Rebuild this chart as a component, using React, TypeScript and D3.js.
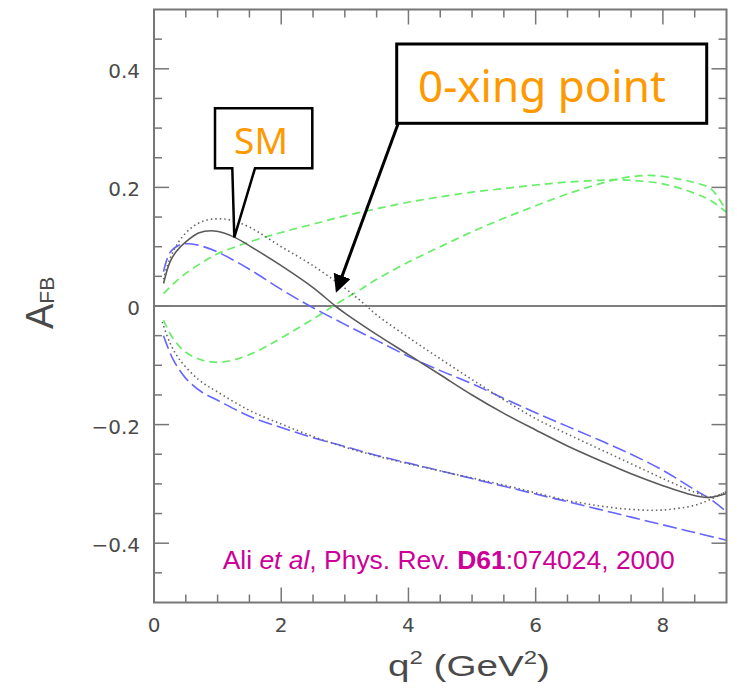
import React from 'react';
import * as d3 from 'd3';

// ---- data ----
const xTickValues = [0, 2, 4, 6, 8];
const xTickLabels = ['0', '2', '4', '6', '8'];
const yTickValues = [-0.4, -0.2, 0, 0.2, 0.4];
const yTickLabels = ['−0.4', '−0.2', '0', '0.2', '0.4'];

// SM (solid)
const smQ = [0.15, 0.25, 0.35, 0.5, 0.7, 0.9, 1.1, 1.3, 1.6, 2.0, 2.5, 2.85, 3.0, 3.4, 4.0, 4.5, 5.0, 5.5, 6.0, 6.5, 7.0, 7.5, 8.0, 8.4, 8.7, 9.0];
const smA = [0.038, 0.074, 0.092, 0.108, 0.123, 0.127, 0.123, 0.114, 0.095, 0.068, 0.031, 0.0, -0.012, -0.041, -0.082, -0.116, -0.15, -0.181, -0.209, -0.236, -0.26, -0.283, -0.303, -0.317, -0.323, -0.316];

// dotted, upper branch
const dotUpQ = [0.15, 0.25, 0.4, 0.6, 0.8, 1.0, 1.2, 1.5, 2.0, 2.5, 3.0, 3.3, 3.5, 4.0, 4.5, 5.0, 5.5, 6.0, 6.5, 7.0, 7.5, 8.0, 8.5, 8.75, 9.0];
const dotUpA = [0.045, 0.08, 0.11, 0.133, 0.144, 0.147, 0.145, 0.133, 0.1, 0.068, 0.03, 0.004, -0.015, -0.053, -0.089, -0.124, -0.158, -0.19, -0.216, -0.241, -0.266, -0.291, -0.314, -0.322, -0.313];

// dotted, lower branch
const dotLoQ = [0.13, 0.25, 0.4, 0.7, 1.0, 1.5, 2.0, 2.5, 3.0, 3.5, 4.0, 4.5, 5.0, 5.5, 6.0, 6.5, 7.0, 7.5, 8.0, 8.5, 8.75, 9.0];
const dotLoA = [-0.027, -0.062, -0.09, -0.124, -0.145, -0.176, -0.199, -0.22, -0.238, -0.253, -0.266, -0.278, -0.29, -0.302, -0.315, -0.328, -0.337, -0.343, -0.344, -0.336, -0.326, -0.313];

// blue long-dash, upper branch
const blueUpQ = [0.15, 0.25, 0.4, 0.55, 0.75, 1.0, 1.5, 2.0, 2.45, 3.0, 3.5, 4.0, 4.5, 5.0, 5.5, 6.0, 6.5, 7.0, 7.5, 8.0, 8.5, 8.75, 9.0];
const blueUpA = [0.058, 0.09, 0.103, 0.105, 0.101, 0.091, 0.062, 0.028, 0.0, -0.031, -0.058, -0.085, -0.109, -0.131, -0.156, -0.18, -0.203, -0.226, -0.25, -0.277, -0.31, -0.326, -0.347];

// blue long-dash, lower branch
const blueLoQ = [0.15, 0.3, 0.5, 0.75, 1.0, 1.5, 2.0, 2.5, 3.0, 3.5, 4.0, 4.5, 5.0, 5.5, 6.0, 6.5, 7.0, 7.5, 8.0, 8.5, 9.0];
const blueLoA = [-0.05, -0.09, -0.122, -0.145, -0.159, -0.186, -0.205, -0.222, -0.237, -0.252, -0.265, -0.278, -0.291, -0.304, -0.317, -0.33, -0.343, -0.356, -0.369, -0.382, -0.395];

// green dashed, upper branch
const greenUpQ = [0.15, 0.3, 0.5, 0.75, 1.0, 1.5, 2.0, 2.5, 3.0, 3.5, 4.0, 4.5, 5.0, 5.5, 6.0, 6.5, 7.0, 7.25, 7.5, 8.0, 8.5, 8.75, 9.0];
const greenUpA = [0.021, 0.037, 0.055, 0.073, 0.088, 0.108, 0.124, 0.138, 0.152, 0.164, 0.175, 0.184, 0.192, 0.198, 0.204, 0.209, 0.212, 0.213, 0.212, 0.206, 0.19, 0.178, 0.158];

// green dashed, lower branch
const greenLoQ = [0.15, 0.3, 0.5, 0.75, 1.0, 1.25, 1.5, 1.75, 2.0, 2.5, 2.82, 3.0, 3.25, 3.5, 4.0, 4.5, 5.0, 5.5, 6.0, 6.5, 7.0, 7.25, 7.5, 7.85, 8.25, 8.5, 8.75, 9.0];
const greenLoA = [-0.024, -0.055, -0.078, -0.091, -0.095, -0.091, -0.082, -0.069, -0.054, -0.022, 0.0, 0.012, 0.028, 0.045, 0.074, 0.1, 0.125, 0.148, 0.169, 0.189, 0.206, 0.213, 0.218, 0.22, 0.214, 0.208, 0.198, 0.16];

const W = 737;
const H = 688;

export default function App() {
  const x = d3.scaleLinear().domain([0, 9]).range([154, 726.5]);
  const y = d3.scaleLinear().domain([-0.5, 0.5]).range([602.5, 9.5]);

  const line = d3
    .line<[number, number]>()
    .x((d) => x(d[0]))
    .y((d) => y(d[1]))
    .curve(d3.curveCatmullRom.alpha(0.5));

  const zip = (q: number[], a: number[]) => q.map((v, i) => [v, a[i]] as [number, number]);

  const series = [
    { q: greenUpQ, a: greenUpA, stroke: '#66ee66', dash: '8,5', width: 1.7 },
    { q: greenLoQ, a: greenLoA, stroke: '#66ee66', dash: '8,5', width: 1.7 },
    { q: blueUpQ, a: blueUpA, stroke: '#6464ff', dash: '14,5', width: 1.6 },
    { q: blueLoQ, a: blueLoA, stroke: '#6464ff', dash: '14,5', width: 1.6 },
    { q: dotUpQ, a: dotUpA, stroke: '#666', dash: '1.5,3', width: 1.6 },
    { q: dotLoQ, a: dotLoA, stroke: '#666', dash: '1.5,3', width: 1.6 },
    { q: smQ, a: smA, stroke: '#5a5a5a', dash: undefined as string | undefined, width: 1.6 },
  ];

  const [x0, x1] = x.range();
  const [y0, y1] = y.range(); // y0 bottom, y1 top

  const xMinor = d3.range(0.5, 9, 0.5).filter((v) => Math.abs(v % 2) > 1e-6);
  const xMajor = xTickValues.filter((v) => v > 0);
  const yMinor = d3.range(-0.45, 0.5, 0.05).filter((v) => Math.abs(Math.round(v * 100) % 20) !== 0);
  const yMajor = yTickValues;

  const tickColor = '#777';
  const labelColor = '#4a4a4a';
  const orange = '#ff9900';

  return (
    <svg width={W} height={H} style={{ position: 'absolute', left: 0, top: 0, background: '#fff' }}>
      <rect x={0} y={0} width={W} height={H} fill="#fff" />

      {/* zero line */}
      <line x1={x0} x2={x1} y1={y(0)} y2={y(0)} stroke="#555" strokeWidth={1.3} />

      {/* curves */}
      {series.map((s, i) => (
        <path
          key={i}
          d={line(zip(s.q, s.a)) || ''}
          fill="none"
          stroke={s.stroke}
          strokeWidth={s.width}
          strokeDasharray={s.dash}
        />
      ))}

      {/* frame */}
      <rect x={x0} y={y1} width={x1 - x0} height={y0 - y1} fill="none" stroke={tickColor} strokeWidth={2} />

      {/* x ticks bottom & top */}
      {xMinor.map((v) => (
        <g key={'xm' + v}>
          <line x1={x(v)} x2={x(v)} y1={y0} y2={y0 - 8} stroke={tickColor} strokeWidth={1.5} />
          <line x1={x(v)} x2={x(v)} y1={y1} y2={y1 + 8} stroke={tickColor} strokeWidth={1.5} />
        </g>
      ))}
      {xMajor.map((v) => (
        <g key={'xM' + v}>
          <line x1={x(v)} x2={x(v)} y1={y0} y2={y0 - 15} stroke={tickColor} strokeWidth={1.5} />
          <line x1={x(v)} x2={x(v)} y1={y1} y2={y1 + 15} stroke={tickColor} strokeWidth={1.5} />
        </g>
      ))}
      {/* y ticks left & right */}
      {yMinor.map((v) => (
        <g key={'ym' + v}>
          <line x1={x0} x2={x0 + 8} y1={y(v)} y2={y(v)} stroke={tickColor} strokeWidth={1.5} />
          <line x1={x1} x2={x1 - 8} y1={y(v)} y2={y(v)} stroke={tickColor} strokeWidth={1.5} />
        </g>
      ))}
      {yMajor.map((v) => (
        <g key={'yM' + v}>
          <line x1={x0} x2={x0 + 15} y1={y(v)} y2={y(v)} stroke={tickColor} strokeWidth={1.5} />
          <line x1={x1} x2={x1 - 15} y1={y(v)} y2={y(v)} stroke={tickColor} strokeWidth={1.5} />
        </g>
      ))}

      {/* tick labels */}
      {xTickValues.map((v, i) => (
        <text key={'xl' + v} x={x(v)} y={632} textAnchor="middle" fontFamily="DejaVu Sans" fontSize={20} fill={labelColor}>
          {xTickLabels[i]}
        </text>
      ))}
      {yTickValues.map((v, i) => (
        <text key={'yl' + v} x={140} y={y(v) + 9} textAnchor="end" fontFamily="DejaVu Sans" fontSize={20} fill={labelColor}>
          {yTickLabels[i]}
        </text>
      ))}

      {/* axis titles */}
      <text
        x={388}
        y={676}
        fontFamily="Liberation Sans"
        fontSize={29}
        fill={labelColor}
        textLength={162}
        lengthAdjust="spacingAndGlyphs"
      >
        q<tspan dy={-12} fontSize={18}>2</tspan>
        <tspan dy={12}> (GeV</tspan>
        <tspan dy={-12} fontSize={18}>2</tspan>
        <tspan dy={12}>)</tspan>
      </text>
      <text transform="translate(53,329) rotate(-90)" fontFamily="Liberation Sans" fontSize={38} fill={labelColor}>
        A<tspan fontSize={21} dy={1}>FB</tspan>
      </text>

      {/* SM callout */}
      <path
        d="M215,108.3 H312.3 V168.3 H255 L234.3,237.3 L232.3,168.3 H215 Z"
        fill="#fff"
        stroke="#000"
        strokeWidth={2.5}
        strokeLinejoin="miter"
      />
      <text x={261} y={154} textAnchor="middle" fontFamily="Noto Sans" fontSize={37} fill={orange}>
        SM
      </text>

      {/* 0-xing callout */}
      <defs>
        <marker id="ah" markerWidth={6} markerHeight={6} refX={5} refY={3} orient="auto" markerUnits="strokeWidth">
          <path d="M0,0 L6,3 L0,6 Z" fill="#000" />
        </marker>
      </defs>
      <line x1={398} y1={124} x2={337} y2={290} stroke="#000" strokeWidth={3} markerEnd="url(#ah)" />
      <rect x={396.7} y={44} width={310} height={79.3} fill="#fff" stroke="#000" strokeWidth={3} />
      <text x={418} y={101.7} fontFamily="Noto Sans" fontSize={44} fill={orange}>
        0-xing point
      </text>

      {/* citation */}
      <text x={222.7} y={569.3} fontFamily="Liberation Sans" fontSize={26} fill="#cc0099" textLength={452} lengthAdjust="spacingAndGlyphs">
        Ali <tspan fontStyle="italic">et al</tspan>, Phys. Rev. <tspan fontWeight="bold">D61</tspan>:074024, 2000
      </text>
    </svg>
  );
}
